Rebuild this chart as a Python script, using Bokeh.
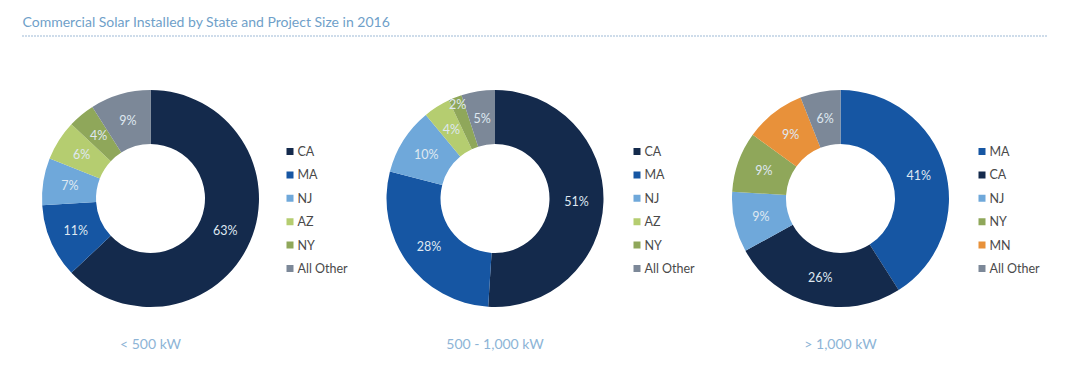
import math
from bokeh.plotting import figure
from bokeh.models import Range1d
from bokeh.core.properties import value
from bokeh.embed import file_html
from bokeh.resources import INLINE

# ---- data ----
title = "Commercial Solar Installed by State and Project Size in 2016"
chart_titles = ["< 500 kW", "500 - 1,000 kW", "> 1,000 kW"]

states_small = ["CA", "MA", "NJ", "AZ", "NY", "All Other"]
pct_small = [63, 11, 7, 6, 4, 9]

states_mid = ["CA", "MA", "NJ", "AZ", "NY", "All Other"]
pct_mid = [51, 28, 10, 4, 2, 5]

states_large = ["MA", "CA", "NJ", "NY", "MN", "All Other"]
pct_large = [41, 26, 9, 9, 9, 6]

colors = {
    "CA": "#142a4c",
    "MA": "#1656a3",
    "NJ": "#6fa8da",
    "AZ": "#b5cd70",
    "NY": "#8fa75a",
    "MN": "#e8913a",
    "All Other": "#7c8898",
}

FONT = "Lato"
W, H = 1064, 361


def Y(y_img):
    # convert screenshot pixel y into data y (data y goes up)
    return H - y_img


p = figure(width=W, height=H, output_backend="svg", toolbar_location=None,
           x_range=Range1d(0, W), y_range=Range1d(0, H),
           x_axis_location=None, y_axis_location=None, min_border=0)
p.grid.visible = False
p.outline_line_color = None
p.background_fill_color = "white"

# title + dotted rule
p.text(x=[22], y=[Y(21)], text=[title], text_font=value(FONT), text_font_size="14px",
       text_color="#6f9fc9", text_baseline="middle", text_align="left")
p.line(x=[22, 1046], y=[Y(35.5), Y(35.5)], line_color="#3f73ad", line_width=1.2, line_dash="1 2")

charts = [(states_small, pct_small), (states_mid, pct_mid), (states_large, pct_large)]
centers_x = [150, 494.5, 840]
cy = Y(198)
r_out, r_in = 108.5, 54.5
legend_x = [286, 633, 978]

for k, (states, pcts) in enumerate(charts):
    cx = centers_x[k]
    total = float(sum(pcts))
    cum = 0.0
    starts, ends, cols, lx, ly, lt = [], [], [], [], [], []
    for s, v in zip(states, pcts):
        a0 = math.pi / 2 - cum / total * 2 * math.pi
        a1 = math.pi / 2 - (cum + v) / total * 2 * math.pi
        starts.append(a0)
        ends.append(a1)
        cols.append(colors[s])
        mid = math.pi / 2 - (cum + v / 2) / total * 2 * math.pi
        rm = (r_in + r_out) / 2 if v >= 3 else r_out - 7
        lx.append(cx + rm * math.cos(mid))
        ly.append(cy + rm * math.sin(mid))
        lt.append(f"{v}%")
        cum += v
    p.annular_wedge(x=cx, y=cy, inner_radius=r_in, outer_radius=r_out,
                    start_angle=starts, end_angle=ends, direction="clock",
                    fill_color=cols, line_color=None)
    p.text(x=lx, y=ly, text=lt, text_font=value(FONT), text_font_size="12.5px",
           text_color="#dfe8f1", text_align="center", text_baseline="middle")

    # legend
    rows_y = [Y(151 + i * 23.4) for i in range(len(states))]
    p.rect(x=[legend_x[k] + 3.5] * len(states), y=rows_y, width=7, height=7,
           fill_color=[colors[s] for s in states], line_color=None)
    p.text(x=[legend_x[k] + 11] * len(states), y=rows_y, text=states,
           text_font=value(FONT), text_font_size="12.5px", text_color="#4a4a4a",
           text_align="left", text_baseline="middle")

    # subtitle
    p.text(x=[cx], y=[Y(343)], text=[chart_titles[k]], text_font=value(FONT),
           text_font_size="14px", text_color="#8db4d6", text_align="center",
           text_baseline="middle")

open("out.html", "w").write(file_html(p, INLINE))
